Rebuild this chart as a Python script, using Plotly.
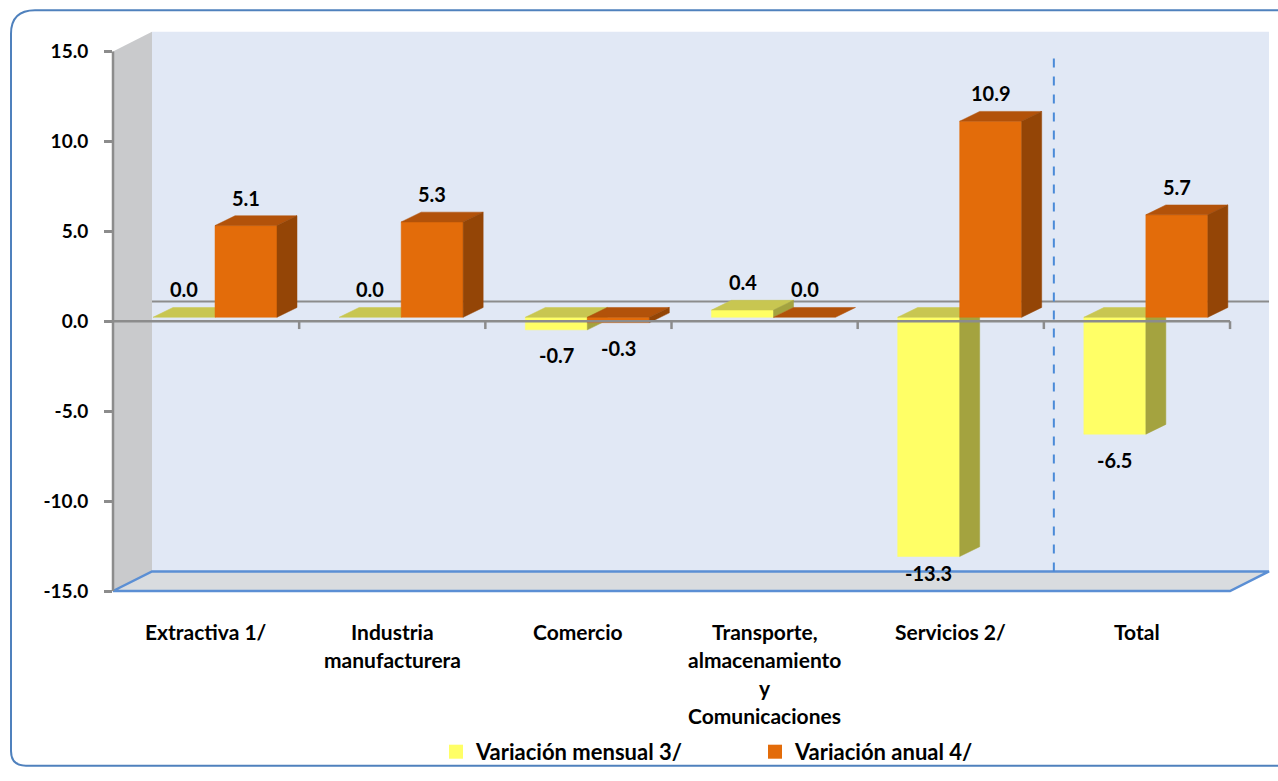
import plotly.graph_objects as go

# ---------------- data ----------------
categories = ["Extractiva 1/", "Industria<br>manufacturera", "Comercio",
              "Transporte,<br>almacenamiento<br>y<br>Comunicaciones",
              "Servicios 2/", "Total"]
mensual = [0.0, 0.0, -0.7, 0.4, -13.3, -6.5]
anual = [5.1, 5.3, -0.3, 0.0, 10.9, 5.7]
series_names = ["Variación mensual 3/", "Variación anual 4/"]
y_ticks = [-15, -10, -5, 0, 5, 10, 15]

# ---------------- geometry / style ----------------
W, H = 1278, 781
# plot area in screen pixels
PL, PR, PT, PB = 113, 1270, 20, 602
ML, MR, MT, MB = PL, W - PR, PT, H - PB
PXU = 186.17          # px per category
PYU = 18.333          # px per unit
XMIN = -0.5
XMAX = XMIN + (PR - PL) / PXU
YMIN = -15.0
YMAX = YMIN + (PB - PT) / PYU

WDX, WDY = 39 / PXU, 20 / PYU      # wall depth
BDX, BDY = 20 / PXU, 10 / PYU      # bar depth
BASE = 4 / PYU                      # bar base lift
BAR_W = 62 / PXU
BAR_START = 40 / PXU                # from category left edge

FONT = "Lato"
COL = {
    0: dict(front="#FFFF66", top="#C8C651", side="#A4A33F"),
    1: dict(front="#E36C0A", top="#B2520A", side="#944506"),
}
GRAY = "#8C8C8C"
BLUE = "#5B8FD4"

def xp(x):
    return (x - XMIN) / (XMAX - XMIN)

def yp(y):
    return (y - YMIN) / (YMAX - YMIN)

def pxx(px):
    return (px - PL) / (PR - PL)

def pxy(py):
    return (PB - py) / (PB - PT)

fig = go.Figure()

# ---------------- bars (3D boxes) ----------------
def poly(xs, ys, color):
    fig.add_trace(go.Scatter(x=xs + [xs[0]], y=ys + [ys[0]], mode="lines",
                             fill="toself", fillcolor=color,
                             line=dict(color=color, width=0.5),
                             hoverinfo="skip", showlegend=False))

labels = []
for i in range(len(categories)):
    for s, vals in enumerate([mensual, anual]):
        v = vals[i]
        x0 = i - 0.5 + BAR_START + s * BAR_W
        x1 = x0 + BAR_W
        top = max(v, 0) + BASE
        bot = min(v, 0) + BASE
        c = COL[s]
        if top > bot:
            poly([x0, x1, x1, x0], [bot, bot, top, top], c["front"])
        poly([x0, x1, x1 + BDX, x0 + BDX], [top, top, top + BDY, top + BDY], c["top"])
        if top > bot:
            poly([x1, x1 + BDX, x1 + BDX, x1], [bot, bot + BDY, top + BDY, top], c["side"])
        cx = (x0 + x1) / 2
        if v >= 0:
            labels.append(dict(x=cx, y=top + BDY, yshift=18, text=f"{v:.1f}"))
        else:
            ly = max(bot - 26 / PYU, -14.0)
            labels.append(dict(x=cx, y=ly, yshift=0, text=f"{v:.1f}"))

# legend dummies
for s, name in enumerate(series_names):
    fig.add_trace(go.Scatter(x=[None], y=[None], mode="markers", name=name,
                             marker=dict(symbol="square", size=14, color=COL[s]["front"])))

# ---------------- walls / floor / lines ----------------
shapes = []
shapes.append(dict(type="rect", xref="paper", yref="paper", layer="below",
                   x0=xp(-0.5 + WDX), x1=xp(5.5 + WDX), y0=yp(-15 + WDY), y1=yp(15 + WDY),
                   fillcolor="#E1E8F5", line=dict(width=0)))
shapes.append(dict(type="path", xref="paper", yref="paper", layer="below",
                   path=f"M{xp(-0.5)},{yp(-15)} L{xp(-0.5)},{yp(15)} L{xp(-0.5+WDX)},{yp(15+WDY)} "
                        f"L{xp(-0.5+WDX)},{yp(-15+WDY)} Z",
                   fillcolor="#C9CACC", line=dict(width=0)))
shapes.append(dict(type="path", xref="paper", yref="paper", layer="below",
                   path=f"M{xp(-0.5)},{yp(-15)} L{xp(5.5)},{yp(-15)} L{xp(5.5+WDX)},{yp(-15+WDY)} "
                        f"L{xp(-0.5+WDX)},{yp(-15+WDY)} Z",
                   fillcolor="#D9DCDF", line=dict(color=BLUE, width=2.5)))
shapes.append(dict(type="line", xref="paper", yref="paper", layer="below",
                   x0=xp(-0.5 + WDX), x1=xp(5.5 + WDX), y0=yp(WDY), y1=yp(WDY),
                   line=dict(color=GRAY, width=2)))
sep_x = 4.5 + 10 / PXU
shapes.append(dict(type="line", xref="paper", yref="paper", layer="below",
                   x0=xp(sep_x), x1=xp(sep_x), y0=yp(-15 + WDY), y1=yp(15 - 5 / PYU),
                   line=dict(color="#4A8AD8", width=2, dash="dash")))
shapes.append(dict(type="line", xref="paper", yref="paper", layer="above",
                   x0=xp(-0.5), x1=xp(-0.5), y0=yp(-15), y1=yp(15),
                   line=dict(color=GRAY, width=2.5)))
shapes.append(dict(type="line", xref="paper", yref="paper", layer="above",
                   x0=xp(-0.5), x1=xp(5.5), y0=yp(0), y1=yp(0),
                   line=dict(color=GRAY, width=2.5)))
for k in range(1, len(categories) + 1):
    shapes.append(dict(type="line", xref="paper", yref="paper", layer="above",
                       x0=xp(-0.5 + k), x1=xp(-0.5 + k), y0=yp(0), y1=yp(-8 / PYU),
                       line=dict(color=GRAY, width=2.5)))
# outer rounded frame (screen px -> paper)
fl, ft, fr, fb = 11, 10, 1300, 780
rt, rb = 24, 15
shapes.append(dict(type="path", xref="paper", yref="paper", layer="above",
                   path=(f"M{pxx(fr)},{pxy(fb)} L{pxx(fl + rb)},{pxy(fb)} "
                         f"Q{pxx(fl)},{pxy(fb)} {pxx(fl)},{pxy(fb - rb)} "
                         f"L{pxx(fl)},{pxy(ft + rt)} Q{pxx(fl)},{pxy(ft)} {pxx(fl + rt)},{pxy(ft)} "
                         f"L{pxx(fr)},{pxy(ft)}"),
                   line=dict(color="#4F81BD", width=2)))

# ---------------- annotations ----------------
annotations = []
for lb in labels:
    annotations.append(dict(x=lb["x"], y=lb["y"], xref="x", yref="y", text=lb["text"],
                            showarrow=False, yshift=lb["yshift"], yanchor="middle",
                            font=dict(family=FONT, size=20, color="black", weight="bold")))
for i, cat in enumerate(categories):
    for j, line in enumerate(cat.split("<br>")):
        annotations.append(dict(x=i, y=pxy(643 + j * 28.7), xref="x", yref="paper",
                                text=line, showarrow=False, yanchor="middle",
                                font=dict(family=FONT, size=21, color="black", weight="bold")))

fig.update_layout(
    width=W, height=H,
    margin=dict(l=ML, r=MR, t=MT, b=MB),
    paper_bgcolor="white", plot_bgcolor="white",
    font=dict(family=FONT, size=18, color="black", weight="bold"),
    xaxis=dict(range=[XMIN, XMAX], showgrid=False, zeroline=False, showline=False,
               showticklabels=False, ticks=""),
    yaxis=dict(range=[YMIN, YMAX], showgrid=False, zeroline=False, showline=False,
               tickvals=y_ticks, ticktext=[f"{t:.1f}" for t in y_ticks],
               ticks="outside", ticklen=8, tickwidth=2.5, tickcolor=GRAY,
               ticklabelstandoff=12,
               tickfont=dict(family=FONT, size=19, color="black", weight="bold")),
    shapes=shapes,
    annotations=annotations,
    showlegend=True,
    hovermode=False,
    legend=dict(orientation="h", x=pxx(436), xanchor="left", y=pxy(766), yanchor="middle",
                entrywidth=274, entrywidthmode="pixels", itemwidth=30,
                bgcolor="rgba(0,0,0,0)",
                font=dict(family=FONT, size=22, color="black", weight="bold")),
)

fig.write_html(
    "out.html",
    config={"displayModeBar": False},
    post_script=("document.documentElement.style.margin='0';"
                 "document.body.style.margin='0';"
                 "document.documentElement.style.overflow='hidden';"
                 "document.body.style.overflow='hidden';"),
)
